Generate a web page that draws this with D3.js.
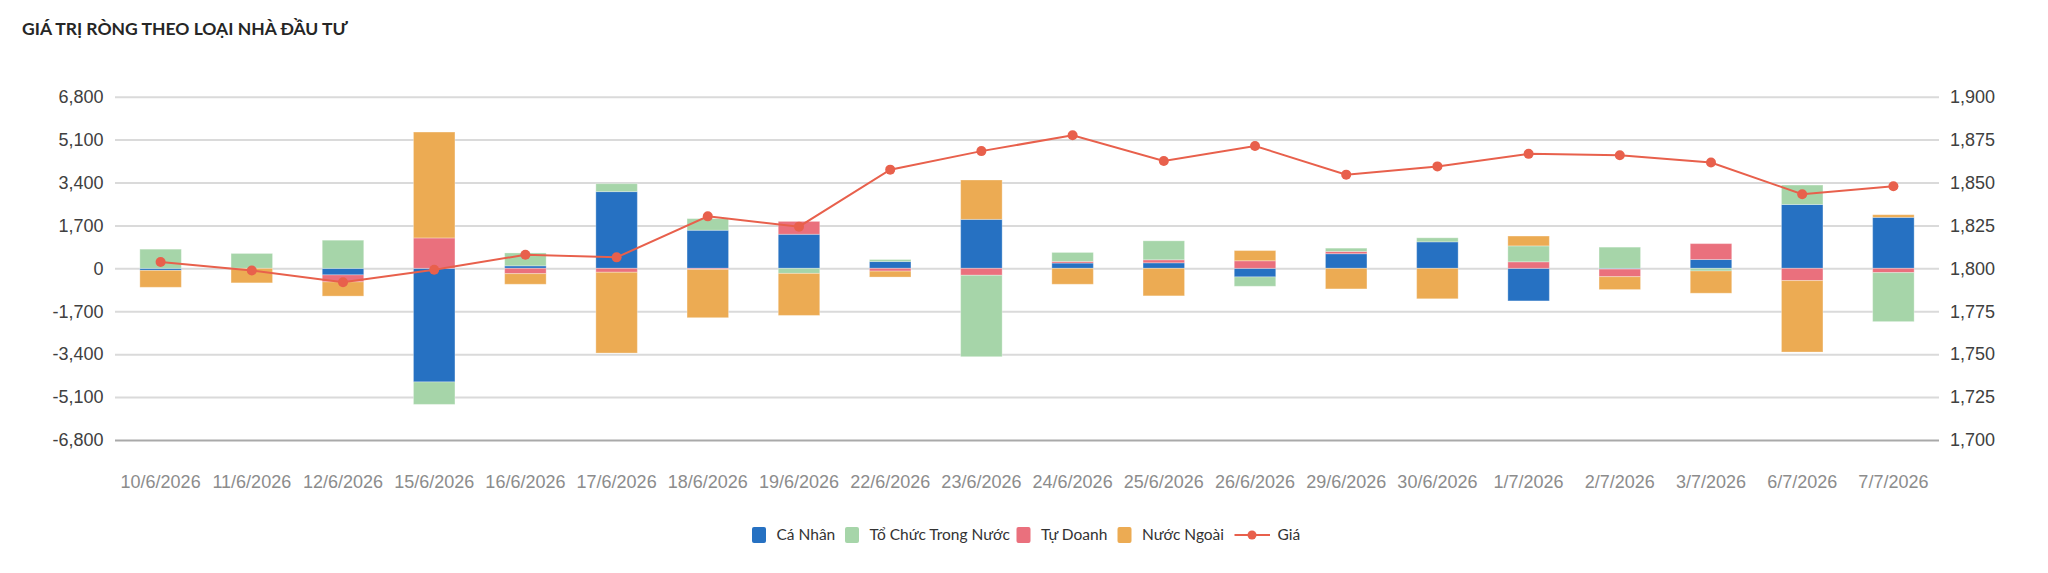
<!DOCTYPE html>
<html>
<head>
<meta charset="utf-8">
<script src="https://cdn.jsdelivr.net/npm/d3@7/dist/d3.min.js"></script>
<style>
  html, body { margin: 0; padding: 0; background: #fff; }
  svg { display: block; }
</style>
</head>
<body>
<svg id="chart" width="2048" height="573"></svg>
<script>
// ---- DATA ----
const dates = ["10/6/2026","11/6/2026","12/6/2026","15/6/2026","16/6/2026","17/6/2026","18/6/2026","19/6/2026","22/6/2026","23/6/2026","24/6/2026","25/6/2026","26/6/2026","29/6/2026","30/6/2026","1/7/2026","2/7/2026","3/7/2026","6/7/2026","7/7/2026"];
const caNhan    = [-80, 0, -260, -4500, 100, 3040, 1510, 1350, 270, 1940, 210, 220, -340, 580, 1050, -1290, -30, 350, 2530, 2020];
const toChuc    = [760, 590, 1115, -890, 510, 315, 460, -200, 80, -3225, 355, 750, -370, 130, 160, 630, 840, -105, 770, -1940];
const tuDoanh   = [0, 0, -275, 1205, -210, -155, -40, 510, -110, -275, 65, 120, 300, 90, 0, 260, -300, 630, -485, -170];
const nuocNgoai = [-670, -575, -565, 4195, -420, -3200, -1915, -1665, -235, 1560, -630, -1090, 405, -815, -1205, 390, -510, -880, -2830, 105];
const price     = [1803.7, 1798.7, 1791.9, 1799.2, 1807.9, 1806.4, 1830.3, 1824.3, 1857.5, 1868.3, 1877.5, 1862.5, 1871.3, 1854.6, 1859.4, 1866.7, 1865.9, 1861.7, 1843.2, 1847.8];
const seriesNames = ["Cá Nhân", "Tổ Chức Trong Nước", "Tự Doanh", "Nước Ngoài"];
const stackOrder = ["Cá Nhân", "Tự Doanh", "Tổ Chức Trong Nước", "Nước Ngoài"];
const lineName = "Giá";
const leftTicks = [-6800, -5100, -3400, -1700, 0, 1700, 3400, 5100, 6800];
const rightTicks = [1700, 1725, 1750, 1775, 1800, 1825, 1850, 1875, 1900];
const title = "GIÁ TRỊ RÒNG THEO LOẠI NHÀ ĐẦU TƯ";

// ---- STYLE ----
const colorOf = {
  "Cá Nhân": "#2671c2",
  "Tổ Chức Trong Nước": "#a6d5a9",
  "Tự Doanh": "#ea707d",
  "Nước Ngoài": "#ecab53"
};
const lineColor = "#e8604c";
const L = 115, R = 1939, T = 96.7, B = 440;
const fmt = v => d3.format(",")(v).replace("\u2212", "-");

const svg = d3.select("#chart");

// title
svg.append("text").attr("x", 22).attr("y", 35)
  .attr("font-family", "Lato, 'Open Sans', sans-serif").attr("font-weight", 700)
  .attr("font-size", 17.5).attr("fill", "#262626").text(title);

// table
const rows = dates.map((d, i) => ({
  date: d,
  [seriesNames[0]]: caNhan[i],
  [seriesNames[1]]: toChuc[i],
  [seriesNames[2]]: tuDoanh[i],
  [seriesNames[3]]: nuocNgoai[i],
  price: price[i]
}));

const x = d3.scaleBand().domain(dates).range([L, R]).paddingInner(0.545).paddingOuter(0.2725);
const yL = d3.scaleLinear().domain([-6800, 6800]).range([B, T]);
const yR = d3.scaleLinear().domain([1700, 1900]).range([B, T]);

// gridlines
const grid = svg.append("g").attr("transform", `translate(${L},0)`)
  .call(d3.axisLeft(yL).tickValues(leftTicks).tickSize(-(R - L)).tickFormat(""));
grid.select(".domain").remove();
grid.selectAll("line").attr("stroke", d => d === -6800 ? "#a9a9a9" : "#dadada").attr("stroke-width", 2);

// left axis
const axL = svg.append("g").attr("transform", `translate(${L},0)`)
  .call(d3.axisLeft(yL).tickValues(leftTicks).tickSize(0).tickPadding(11.5).tickFormat(fmt));
axL.select(".domain").remove();
axL.selectAll("text").attr("font-family", "'Liberation Sans', Arial, sans-serif").attr("font-size", 18).attr("fill", "#404040");

// right axis
const axR = svg.append("g").attr("transform", `translate(${R},0)`)
  .call(d3.axisRight(yR).tickValues(rightTicks).tickSize(0).tickPadding(11).tickFormat(fmt));
axR.select(".domain").remove();
axR.selectAll("text").attr("font-family", "'Liberation Sans', Arial, sans-serif").attr("font-size", 18).attr("fill", "#404040");

// x axis
const axX = svg.append("g").attr("transform", `translate(0,${B})`)
  .call(d3.axisBottom(x).tickSize(0).tickPadding(35));
axX.select(".domain").remove();
axX.selectAll("text").attr("font-family", "'Liberation Sans', Arial, sans-serif").attr("font-size", 18).attr("fill", "#8c8c8c");

// stacked bars
const stack = d3.stack().keys(stackOrder).offset(d3.stackOffsetDiverging);
const stacked = stack(rows);
svg.append("g").selectAll("g").data(stacked).join("g")
  .attr("fill", d => colorOf[d.key])
  .selectAll("rect").data(d => d).join("rect")
  .attr("x", d => x(d.data.date))
  .attr("width", x.bandwidth())
  .attr("y", d => yL(Math.max(d[0], d[1])))
  .attr("height", d => Math.abs(yL(d[0]) - yL(d[1])))
  .attr("stroke", "#fff").attr("stroke-opacity", 0.3).attr("stroke-width", 1);

// price line
const line = d3.line().x(d => x(d.date) + x.bandwidth() / 2).y(d => yR(d.price));
svg.append("path").datum(rows).attr("d", line)
  .attr("fill", "none").attr("stroke", lineColor).attr("stroke-width", 2);
svg.append("g").selectAll("circle").data(rows).join("circle")
  .attr("cx", d => x(d.date) + x.bandwidth() / 2)
  .attr("cy", d => yR(d.price))
  .attr("r", 5).attr("fill", lineColor);

// legend
const legY = 535;
const legFont = "Lato, 'Open Sans', sans-serif";
const legX = [752, 845, 1016.5, 1117.5];
const leg = svg.append("g");
seriesNames.forEach((name, i) => {
  leg.append("rect").attr("x", legX[i]).attr("y", legY - 8).attr("width", 14).attr("height", 16)
    .attr("rx", 2).attr("fill", colorOf[name]);
  leg.append("text").attr("x", legX[i] + 24.5).attr("y", legY).attr("dy", "0.35em")
    .attr("font-family", legFont).attr("font-size", 15.5).attr("fill", "#333").text(name);
});
leg.append("line").attr("x1", 1234.5).attr("x2", 1270).attr("y1", legY).attr("y2", legY)
  .attr("stroke", lineColor).attr("stroke-width", 2);
leg.append("circle").attr("cx", 1252).attr("cy", legY).attr("r", 4.5).attr("fill", lineColor);
leg.append("text").attr("x", 1277.6).attr("y", legY).attr("dy", "0.35em")
  .attr("font-family", legFont).attr("font-size", 15.5).attr("fill", "#333").text(lineName);
</script>
</body>
</html>
